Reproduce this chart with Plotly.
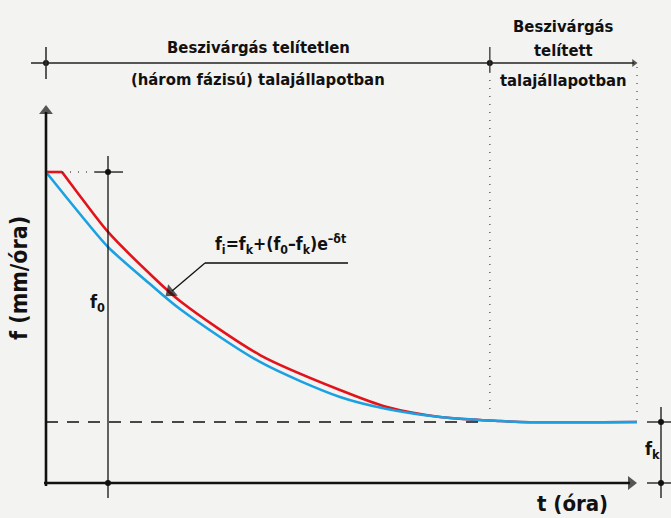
import plotly.graph_objects as go

# ---- data (t in hours, f in mm/h; schematic units) ----
t_red = [0, 0.271, 0.575, 1.049, 1.760, 2.267, 3.621, 4.975, 5.770, 6.667, 7.343, 7.682, 8.020, 10.0]
f_red = [5.098, 5.098, 4.705, 4.115, 3.426, 2.984, 2.098, 1.525, 1.246, 1.082, 1.033, 1.016, 1.0, 1.0]
t_blue = [0, 0.575, 1.049, 1.760, 2.267, 3.621, 4.975, 5.770, 6.667, 7.343, 7.682, 8.020, 10.0]
f_blue = [5.098, 4.410, 3.869, 3.262, 2.852, 1.984, 1.410, 1.213, 1.082, 1.033, 1.016, 1.0, 1.0]

F0 = 5.098
FK = 1.0
T_F0 = 1.049
T_SAT = 7.51
T_END = 10.0

title_left = ["Beszivárgás telítetlen", "(három fázisú) talajállapotban"]
title_right = ["Beszivárgás", "telített", "talajállapotban"]
y_label = "f (mm/óra)"
x_label = "t (óra)"
f0_label = "f<sub>0</sub>"
fk_label = "f<sub>k</sub>"
formula = "f<sub>i</sub>=f<sub>k</sub>+(f<sub>0</sub>–f<sub>k</sub>)e<sup>–δt</sup>"

# ---- layout helpers: pixel -> data ----
SX = 59.1
SY = 61.0
def X(px):
    return (px - 46) / SX
def Y(py):
    return (483 - py) / SY

FONT = "DejaVu Sans Condensed, Liberation Sans Narrow, sans-serif"
BG = "#f3f3f1"
BLACK = "#111111"
RED = "#e3131b"
BLUE = "#1ba1e2"

fig = go.Figure()
# red: flat ponding start (straight) + decay (smooth)
fig.add_trace(go.Scatter(x=t_red[:2], y=f_red[:2], mode="lines",
                         line=dict(color=RED, width=2.6), hoverinfo="skip"))
fig.add_trace(go.Scatter(x=t_red[1:], y=f_red[1:], mode="lines",
                         line=dict(color=RED, width=2.6, shape="spline", smoothing=0.8),
                         hoverinfo="skip"))
fig.add_trace(go.Scatter(x=t_blue, y=f_blue, mode="lines",
                         line=dict(color=BLUE, width=2.6, shape="spline", smoothing=0.8),
                         hoverinfo="skip"))

shapes = []
def line(x0, y0, x1, y1, w=1.3, color=BLACK, dash=None):
    d = dict(type="line", xref="x", yref="y", x0=x0, y0=y0, x1=x1, y1=y1,
             line=dict(color=color, width=w))
    if dash:
        d["line"]["dash"] = dash
    shapes.append(d)

TOP = Y(63)
# main axes
line(0, Y(486), 0, Y(112), w=2.6)
line(X(44), 0, X(630), 0, w=2.6)
# top interval line
line(X(31), TOP, X(634), TOP, w=1.3, color="#222")
# top crosses
line(0, Y(47), 0, Y(79), w=1.6, color="#333")
line(T_SAT, Y(47), T_SAT, Y(72), w=1.3, color="#333")
# dotted separators
line(T_SAT, Y(72), T_SAT, Y(416), w=1.2, color="#444", dash="1px,7px")
line(T_END, Y(67), T_END, Y(416), w=1.2, color="#444", dash="1px,7px")
# f0 marker
line(T_F0, Y(156), T_F0, Y(498), w=1.3)
line(X(95), F0, X(123), F0, w=1.3)
line(X(62), F0, X(95), F0, w=1.2, dash="1px,7px")
# fk dashed
line(0, FK, X(482), FK, w=1.3, dash="12px,9px")
# fk bracket
line(X(661), Y(407), X(661), Y(498), w=1.3)
line(X(647), FK, X(671), FK, w=1.3)
line(X(647), 0, X(671), 0, w=1.3)
# formula underline and leader
line(X(205), Y(263), X(348), Y(263), w=1.8, color="#444")
line(X(205), Y(263), X(172), Y(291), w=1.3)

# arrow heads
fig.add_trace(go.Scatter(
    x=[0, X(631), X(634), X(170.5)],
    y=[Y(111), 0, TOP, Y(292)],
    mode="markers",
    marker=dict(symbol="triangle-up", color=BLACK, size=[12, 12, 7, 13],
                angle=[0, 90, 90, 230], line=dict(width=0)),
    hoverinfo="skip"))

ann = []
def text(s, x, y, size, angle=0, color=BLACK):
    ann.append(dict(text=s, x=x, y=y, xref="x", yref="y", showarrow=False,
                    xanchor="center", yanchor="middle", textangle=angle,
                    font=dict(family=FONT, size=size, color=color, weight="bold")))

text(title_left[0], X(258), Y(47), 16.5)
text(title_left[1], X(258), Y(79), 16.5)
text(title_right[0], X(563), Y(26), 16.5)
text(title_right[1], X(563), Y(50), 16.5)
text(title_right[2], X(563), Y(80), 16.5)
text(y_label, X(19), Y(278), 23, angle=-90)
text(x_label, X(572), Y(503), 22)
text(f0_label, X(97), Y(303), 18)
text(fk_label, X(652), Y(450), 18)
text(formula, X(281), Y(244), 17.5)

# dots at the crosses
dot_x = [0, T_SAT, T_F0, T_F0, X(661), X(661)]
dot_y = [TOP, TOP, F0, 0, FK, 0]
fig.add_trace(go.Scatter(x=dot_x, y=dot_y, mode="markers",
                         marker=dict(color=BLACK, size=6), hoverinfo="skip"))

fig.update_layout(
    width=671, height=518, margin=dict(l=0, r=0, t=0, b=0),
    paper_bgcolor=BG, plot_bgcolor=BG, showlegend=False,
    xaxis=dict(range=[X(0), X(671)], visible=False, fixedrange=True),
    yaxis=dict(range=[Y(518), Y(0)], visible=False, fixedrange=True),
    shapes=shapes, annotations=ann,
)
fig.write_html("out.html", config={"displayModeBar": False},
               post_script="document.body.style.margin='0px';document.body.style.background='#f3f3f1';")
